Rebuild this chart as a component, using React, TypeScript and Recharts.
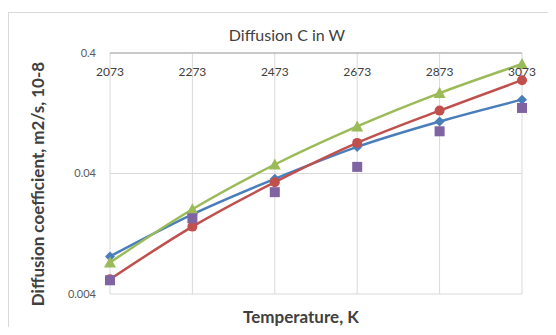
import { LineChart, Line, XAxis, YAxis, CartesianGrid } from 'recharts'

const temperatures = [2073, 2273, 2473, 2673, 2873, 3073]
const blueSeries = [0.0082, 0.0183, 0.0361, 0.0665, 0.108, 0.164]
const redSeries = [0.0053, 0.0145, 0.0339, 0.0718, 0.133, 0.238]
const greenSeries = [0.0073, 0.0202, 0.0475, 0.0984, 0.186, 0.324]
const purpleSeries = [0.0052, 0.017, 0.028, 0.0454, 0.0896, 0.14]
const yTicks = [0.004, 0.04, 0.4]

const data = temperatures.map((t, i) => ({
  t,
  blue: blueSeries[i],
  red: redSeries[i],
  green: greenSeries[i],
  purple: purpleSeries[i],
}))

const font = 'Lato, "Open Sans", sans-serif'

const Diamond = (props: any) => {
  const { cx, cy, fill } = props
  if (cx == null || cy == null) return null
  return <path d={`M${cx},${cy - 5}L${cx + 5},${cy}L${cx},${cy + 5}L${cx - 5},${cy}Z`} fill={fill} />
}

const Circle = (props: any) => {
  const { cx, cy, fill } = props
  if (cx == null || cy == null) return null
  return <circle cx={cx} cy={cy} r={5} fill={fill} />
}

const Triangle = (props: any) => {
  const { cx, cy, fill } = props
  if (cx == null || cy == null) return null
  return <path d={`M${cx},${cy - 6}L${cx + 6},${cy + 5}L${cx - 6},${cy + 5}Z`} fill={fill} />
}

const Square = (props: any) => {
  const { cx, cy, fill } = props
  if (cx == null || cy == null) return null
  return <rect x={cx - 5} y={cy - 5} width={10} height={10} fill={fill} />
}

// x labels sit just under the top axis line, inside the plot
const TopTick = (props: any) => {
  const { x, payload } = props
  return (
    <text x={x} y={76} textAnchor="middle" fontSize={12} fill="#404040" fontFamily={font}>
      {payload.value}
    </text>
  )
}

export default function App() {
  return (
    <div style={{ position: 'relative', width: 556, height: 335, margin: -8, overflow: 'hidden', background: '#fff' }}>
      <div
        style={{
          position: 'absolute',
          left: 8,
          top: 12,
          width: 600,
          height: 400,
          border: '1px solid #d9d9d9',
        }}
      />
      <div
        style={{
          position: 'absolute',
          left: 287,
          top: 35,
          transform: 'translate(-50%, -50%)',
          whiteSpace: 'nowrap',
          fontFamily: font,
          fontSize: 16,
          lineHeight: '20px',
          color: '#404040',
        }}
      >
        Diffusion C in W
      </div>
      <div
        style={{
          position: 'absolute',
          left: 301,
          top: 317,
          transform: 'translate(-50%, -50%)',
          whiteSpace: 'nowrap',
          fontFamily: font,
          fontSize: 17,
          lineHeight: '20px',
          fontWeight: 'bold',
          color: '#404040',
        }}
      >
        Temperature, K
      </div>
      <div
        style={{
          position: 'absolute',
          left: 38,
          top: 184,
          transform: 'translate(-50%, -50%) rotate(-90deg)',
          whiteSpace: 'nowrap',
          fontFamily: font,
          fontSize: 17,
          lineHeight: '20px',
          fontWeight: 'bold',
          color: '#404040',
        }}
      >
        Diffusion coefficient, m2/s, 10-8
      </div>
      <div style={{ position: 'absolute', left: 0, top: 0 }}>
        <LineChart width={556} height={335} data={data} margin={{ top: 52, right: 34, bottom: 41, left: 50 }}>
          <CartesianGrid stroke="#d9d9d9" />
          <XAxis
            dataKey="t"
            type="number"
            domain={[2073, 3073]}
            ticks={temperatures}
            orientation="top"
            height={1}
            axisLine={{ stroke: '#a6a6a6' }}
            tickLine={false}
            tick={<TopTick />}
          />
          <YAxis
            scale="log"
            domain={[0.004, 0.4]}
            ticks={yTicks}
            allowDataOverflow
            width={60}
            axisLine={false}
            tickLine={false}
            tick={{ fontSize: 11, fill: '#595959', fontFamily: font }}
            tickMargin={8}
          />
          <Line type="monotone" dataKey="blue" stroke="#4a7ebb" strokeWidth={2.5} dot={<Diamond fill="#4a7ebb" />} isAnimationActive={false} />
          <Line type="monotone" dataKey="red" stroke="#c0504d" strokeWidth={2.5} dot={<Circle fill="#c0504d" />} isAnimationActive={false} />
          <Line type="monotone" dataKey="green" stroke="#9bbb59" strokeWidth={2.5} dot={<Triangle fill="#9bbb59" />} isAnimationActive={false} />
          <Line type="monotone" dataKey="purple" stroke="none" dot={<Square fill="#8064a2" />} isAnimationActive={false} />
        </LineChart>
      </div>
    </div>
  )
}
